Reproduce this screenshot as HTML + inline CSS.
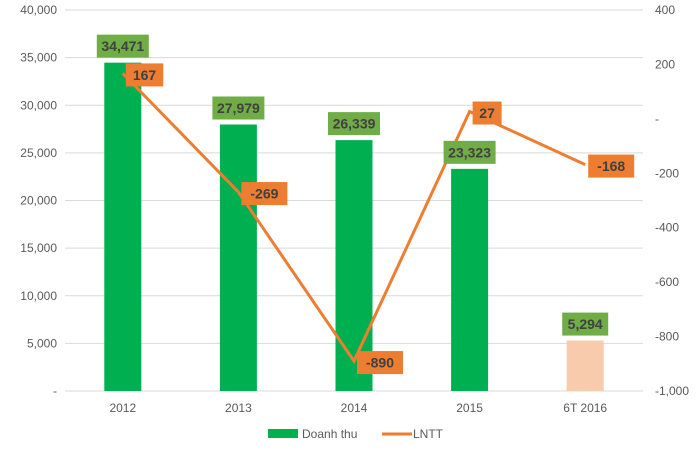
<!DOCTYPE html>
<html><head><meta charset="utf-8"><style>
body{margin:0;background:#fff;}
svg{font-family:"Liberation Sans",sans-serif;}
</style></head><body>
<svg id="c" width="700" height="447"></svg>
<script>
const categories=["2012","2013","2014","2015","6T 2016"];
const revenue=[34471,27979,26339,23323,5294];
const revenueLabels=["34,471","27,979","26,339","23,323","5,294"];
const profit=[167,-269,-890,27,-168];
const leftTicks=[0,5000,10000,15000,20000,25000,30000,35000,40000];
const leftTickLabels=["-","5,000","10,000","15,000","20,000","25,000","30,000","35,000","40,000"];
const rightTicks=[-1000,-800,-600,-400,-200,0,200,400];
const rightTickLabels=["-1,000","-800","-600","-400","-200","-","200","400"];
const svg=document.getElementById('c');
const NS="http://www.w3.org/2000/svg";
const X0=65,X1=643,YT=10,YB=391;
const yL=v=>YB-(v/40000)*(YB-YT);
const yR=v=>YB-((v+1000)/1400)*(YB-YT);
const xC=i=>X0+(i+0.5)*(X1-X0)/categories.length;
function mk(t,a,txt){const e=document.createElementNS(NS,t);for(const k in a)e.setAttribute(k,a[k]);if(txt!==undefined)e.textContent=txt;svg.appendChild(e);return e;}
leftTicks.forEach((v,i)=>{
 const g=mk('line',{x1:X0,x2:X1,y1:yL(v),y2:yL(v),stroke:'#d9d9d9','stroke-width':1});
 
 const t=mk('text',{x:57,y:yL(v)+4,'text-anchor':'end','font-size':12,fill:'#595959'},leftTickLabels[i]);
 
});
rightTicks.forEach((v,i)=>{
 const t=mk('text',{x:655,y:yR(v)+4,'text-anchor':'start','font-size':12,fill:'#595959'},rightTickLabels[i]);
 
});
const bw=37;
revenue.forEach((v,i)=>{
 const b=mk('rect',{x:xC(i)-bw/2,y:yL(v),width:bw,height:YB-yL(v),fill:i===4?'#f8cbad':'#00b050'});
 
 const t=mk('text',{x:xC(i),y:412,'text-anchor':'middle','font-size':12,fill:'#595959'},categories[i]);
 
});
const pts=profit.map((v,i)=>xC(i)+','+yR(v)).join(' ');
const pl=mk('polyline',{points:pts,fill:'none',stroke:'#ed7d31','stroke-width':3});

revenue.forEach((v,i)=>{
 const w=i===4?46:52,y=yL(v)-28;
 const r=mk('rect',{x:xC(i)-w/2,y:y,width:w,height:23,fill:'#70ad47'});
 
 const t=mk('text',{x:xC(i),y:y+16.5,'text-anchor':'middle','font-size':14,'font-weight':'bold',fill:'#404040'},revenueLabels[i]);
 
});
profit.forEach((v,i)=>{
 const txt=String(v),w=txt.length*8.5+12,x=xC(i)+3,y=yR(v)-10;
 const r=mk('rect',{x:x,y:y,width:w,height:23,fill:'#ed7d31'});
 
 const t=mk('text',{x:x+w/2,y:y+16.5,'text-anchor':'middle','font-size':14,'font-weight':'bold',fill:'#404040'},txt);
 
});
const l1=mk('rect',{x:268,y:429,width:30,height:9,fill:'#00b050'});

const lt1=mk('text',{x:302,y:438,'font-size':12,fill:'#595959'},'Doanh thu');

const l2=mk('line',{x1:382,x2:412,y1:434,y2:434,stroke:'#ed7d31','stroke-width':3});

const lt2=mk('text',{x:413,y:438,'font-size':12,fill:'#595959'},'LNTT');

</script>
</body></html>
